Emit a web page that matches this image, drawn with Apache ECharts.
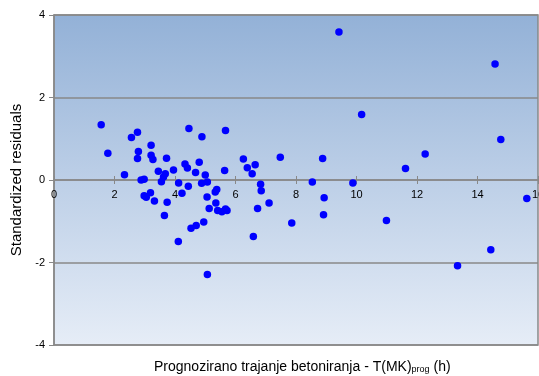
<!DOCTYPE html>
<html><head><meta charset="utf-8">
<script src="https://cdn.jsdelivr.net/npm/echarts@6/dist/echarts.min.js"></script>
<style>html,body{margin:0;padding:0;background:#fff}#c{width:539px;height:376px}</style>
</head><body><div id="c"></div>
<script>
const xValues = [1.56,1.78,2.33,2.56,2.76,2.79,2.76,2.88,2.98,3.21,3.21,3.27,3.45,3.72,3.95,3.55,3.62,3.68,4.12,4.33,4.41,4.46,4.44,4.80,4.68,4.89,4.88,5.00,5.07,5.64,5.67,5.38,5.33,6.26,6.39,6.55,6.65,6.83,6.85,7.48,2.98,3.05,3.19,3.32,3.74,3.65,4.23,4.11,4.53,4.70,4.95,5.06,5.13,5.35,5.41,5.55,5.67,5.72,5.07,6.59,6.73,7.11,7.86,8.54,8.88,8.93,8.91,9.42,9.88,10.17,10.99,11.62,12.27,13.34,14.44,14.58,14.77,15.63];
const yValues = [1.34,0.65,0.13,1.03,1.16,0.69,0.52,0.00,0.02,0.84,0.60,0.50,0.21,0.53,0.24,-0.04,0.07,0.15,-0.07,0.39,0.29,1.25,-0.15,0.43,0.18,1.05,-0.08,0.12,-0.05,0.23,1.20,-0.23,-0.29,0.51,0.30,0.15,0.37,-0.10,-0.26,0.55,-0.38,-0.42,-0.31,-0.51,-0.54,-0.86,-0.32,-1.49,-1.17,-1.10,-1.02,-0.41,-0.69,-0.56,-0.74,-0.77,-0.70,-0.74,-2.29,-1.37,-0.69,-0.56,-1.04,-0.05,0.52,-0.43,-0.84,3.59,-0.07,1.59,-0.98,0.28,0.63,-2.08,-1.69,2.81,0.98,-0.45];
const xTicks = {min: 0, max: 16, interval: 2};
const yTicks = {min: -4, max: 4, interval: 2};
const yTitle = 'Standardized residuals';
const xTitleMain = 'Prognozirano trajanje betoniranja - T(MK)';
const xTitleSub = 'prog';
const xTitleEnd = ' (h)';

const points = xValues.map((x, i) => [x, yValues[i]]);
const chart = echarts.init(document.getElementById('c'), null, {renderer: 'canvas'});
const font = 'Liberation Sans, Arial, sans-serif';
const gridTop = 15, gridBottom = 31, H = 376;
const zeroOffset = -(H - gridTop - gridBottom) / 2;
chart.setOption({
  animation: false,
  textStyle: {fontFamily: font},
  title: {
    left: 149, top: 353,
    text: '{m|' + xTitleMain + '}{s|' + xTitleSub + '}{m|' + xTitleEnd + '}',
    textStyle: {
      fontWeight: 'normal',
      rich: {
        m: {fontSize: 14, color: '#000', fontFamily: font, fontWeight: 'normal', verticalAlign: 'bottom', lineHeight: 16},
        s: {fontSize: 9, color: '#000', fontFamily: font, fontWeight: 'normal', verticalAlign: 'bottom', lineHeight: 12}
      }
    }
  },
  grid: {
    left: 54, right: 1, top: gridTop, bottom: gridBottom,
    outerBoundsMode: 'none',
    containLabel: false,
    show: true,
    borderColor: '#888', borderWidth: 1.5,
    backgroundColor: new echarts.graphic.LinearGradient(0, 0, 0, 1, [
      {offset: 0, color: '#93b1d7'},
      {offset: 1, color: '#e6edf7'}
    ])
  },
  xAxis: [{
    type: 'value', min: xTicks.min, max: xTicks.max, interval: xTicks.interval,
    position: 'bottom', offset: zeroOffset,
    axisLine: {onZero: false, lineStyle: {color: '#888', width: 1.5}},
    axisTick: {show: true, length: 4, lineStyle: {color: '#888'}},
    axisLabel: {color: '#000', fontSize: 11, margin: 9, fontFamily: font},
    splitLine: {show: false}
  }, {
    type: 'value', min: xTicks.min, max: xTicks.max, interval: xTicks.interval,
    position: 'bottom', offset: zeroOffset,
    axisLine: {show: false, onZero: false},
    axisTick: {show: true, inside: true, length: 4, lineStyle: {color: '#888'}},
    axisLabel: {show: false},
    splitLine: {show: false}
  }],
  yAxis: {
    type: 'value', min: yTicks.min, max: yTicks.max, interval: yTicks.interval,
    name: yTitle, nameLocation: 'middle', nameGap: 24, nameRotate: 90,
    nameTextStyle: {fontSize: 15, color: '#000', fontFamily: font},
    axisLine: {show: true, onZero: false, lineStyle: {color: '#888', width: 1.5}},
    axisTick: {show: true, length: 5, lineStyle: {color: '#888'}},
    axisLabel: {color: '#000', fontSize: 11, margin: 9, fontFamily: font},
    splitLine: {show: true, lineStyle: {color: '#888', width: 1.5}}
  },
  series: [{
    type: 'scatter', xAxisIndex: 0, data: points, symbol: 'circle', symbolSize: 7.5,
    itemStyle: {color: '#0000ff', opacity: 1},
    z: 5
  }]
});
</script></body></html>
